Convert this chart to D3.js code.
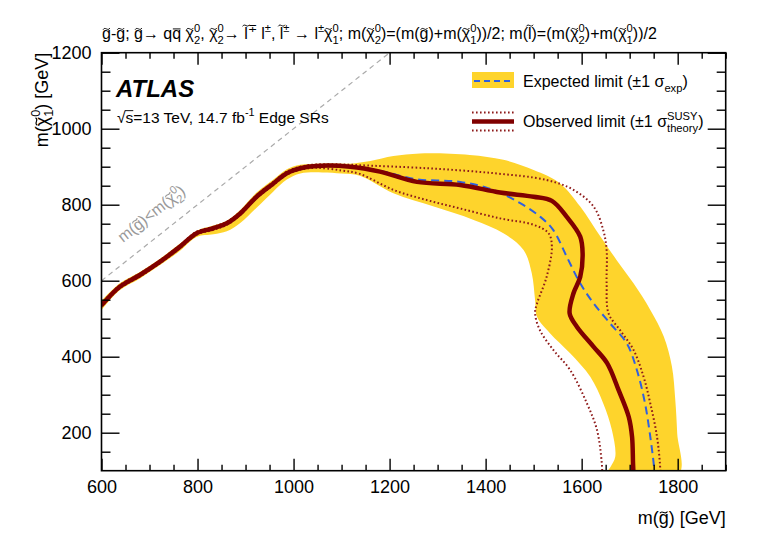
<!DOCTYPE html>
<html lang="en">
<head>
  <meta charset="UTF-8">
  <title>Edge SRs gluino limit</title>
  <script src="https://cdn.jsdelivr.net/npm/d3@7"></script>
  <style>
    body { margin: 0; background: #fff; }
    text { font-family: "Liberation Sans", Arial, sans-serif; }
  </style>
</head>
<body>
  <svg id="chart" width="764" height="542"></svg>
  <script>
    // [m(gluino), m(chi1)] in GeV
    const observed = [[600,535],[638,584],[680,615],[722,650],[763,689],[798,725],[833,738],[861,751],[889,777],[923,821],[958,856],[986,883],[1014,896],[1048,902],[1118,900],[1180,887],[1257,860],[1347,852],[1430,832],[1500,821],[1538,810],[1569,768],[1597,716],[1602,672],[1597,610],[1583,567],[1575,514],[1590,479],[1625,426],[1653,383],[1677,312],[1698,242],[1705,189],[1707,119],[1708,90]];
    const expected = [[600,535],[638,584],[680,615],[722,650],[763,689],[798,725],[833,738],[861,751],[889,777],[923,821],[958,856],[986,883],[1014,896],[1048,902],[1118,900],[1180,889],[1256,867],[1347,860],[1416,839],[1472,804],[1514,768],[1541,733],[1569,663],[1597,593],[1625,540],[1659,488],[1694,435],[1715,365],[1732,277],[1743,189],[1750,119],[1752,90]];
    const obsDown = [[600,531],[638,580],[680,611],[722,646],[763,685],[798,721],[833,734],[861,747],[889,773],[923,817],[958,852],[986,879],[1014,892],[1048,897],[1100,890],[1138,881],[1208,839],[1278,812],[1347,790],[1430,764],[1500,747],[1531,725],[1538,689],[1527,610],[1507,540],[1503,514],[1513,470],[1541,418],[1576,365],[1611,277],[1632,207],[1642,119],[1643,90]];
    const obsUp = [[600,539],[638,588],[680,619],[722,654],[763,693],[798,729],[833,742],[861,755],[889,781],[923,825],[958,860],[986,887],[1014,900],[1048,906],[1100,906],[1138,904],[1277,896],[1416,883],[1527,865],[1583,839],[1625,795],[1645,733],[1652,681],[1652,593],[1656,514],[1680,470],[1708,418],[1729,347],[1743,277],[1757,189],[1763,119],[1764,90]];
    const bandUpper = [[600,547],[638,593],[680,623],[722,658],[763,697],[798,731],[833,745],[861,758],[889,786],[923,832],[958,866],[986,893],[1014,905],[1060,908],[1118,908],[1160,915],[1208,928],[1263,935],[1367,931],[1437,918],[1500,891],[1555,856],[1597,795],[1639,716],[1673,654],[1708,593],[1743,523],[1771,453],[1788,374],[1795,286],[1799,198],[1802,90]];
    const bandLower = [[600,523],[638,575],[680,606],[722,641],[763,678],[798,715],[833,722],[861,730],[889,752],[923,792],[958,835],[986,866],[1014,882],[1060,885],[1100,882],[1138,876],[1208,830],[1292,795],[1375,760],[1437,725],[1479,681],[1496,620],[1503,549],[1507,505],[1534,462],[1576,409],[1618,347],[1645,277],[1663,207],[1670,137],[1660,110],[1652,90]];
    const diagonal = [[600,600],[1300,1300]];
    const xMajor = d3.range(600, 1801, 200);
    const yMajor = d3.range(200, 1201, 200);

    const svg = d3.select('#chart');
    const x = d3.scaleLinear().domain([600, 1900]).range([101.5, 725.7]);
    const y = d3.scaleLinear().domain([100, 1200]).range([470.7, 52.7]);
    const [x0, x1] = x.range(), [y0, y1] = y.range();

    // rich text: ^{..} sup, _{..} sub, ^{..}_{..} stacked.
    // combining tilde / macron / overline are drawn by hand over the base char
    function rich(parent, px, py, str, fs, color = '#000', anchor = 'start') {
      const t = parent.append('text').attr('x', px).attr('y', py)
        .attr('text-anchor', anchor).style('font-size', fs + 'px').style('fill', color);
      const re = /\^\{([^}]*)\}_\{([^}]*)\}|\^\{([^}]*)\}|_\{([^}]*)\}/g;
      const marks = [];
      let cur = 0, last = 0, m, extra = 0, n = 0;
      const add = (s, shift, size) => {
        let clean = '';
        for (const ch of s) {
          if ('\u0303\u0304\u0305'.includes(ch)) marks.push({ i: n + clean.length - 1, ch, base: clean[clean.length - 1] });
          else clean += ch;
        }
        n += clean.length;
        const ts = t.append('tspan').attr('dy', shift - cur).style('font-size', size + 'px').text(clean);
        if (extra) { ts.attr('dx', extra); extra = 0; }
        cur = shift;
        return ts;
      };
      while ((m = re.exec(str)) !== null) {
        if (m.index > last) add(str.slice(last, m.index), 0, fs);
        if (m[1] !== undefined) {
          const a = add(m[1], -0.42 * fs, 0.7 * fs);
          const wa = a.node().getComputedTextLength();
          const b = add(m[2], 0.3 * fs, 0.7 * fs).attr('dx', -wa);
          const wb = b.node().getComputedTextLength();
          if (wa > wb) extra = wa - wb;
        } else if (m[3] !== undefined) {
          add(m[3], -0.42 * fs, 0.7 * fs);
        } else {
          add(m[4], 0.3 * fs, 0.7 * fs);
        }
        last = re.lastIndex;
      }
      if (last < str.length) add(str.slice(last), 0, fs);

      marks.forEach(mk => {
        const e = t.node().getExtentOfChar(mk.i);
        const base = e.y + 0.905 * fs;
        const cx = e.x + e.width / 2;
        const tall = 'lbdhkft'.includes(mk.base);
        if (mk.ch === '\u0303') {
          const w = 0.42 * fs, h = 0.1 * fs, cy = base - (tall ? 0.87 : 0.66) * fs;
          parent.append('path')
            .attr('d', `M${cx - w / 2},${cy + h / 2} C${cx - w / 5},${cy - 1.8 * h} ${cx + w / 5},${cy + 1.8 * h} ${cx + w / 2},${cy - h / 2}`)
            .attr('fill', 'none').attr('stroke', color).attr('stroke-width', 0.06 * fs);
        } else {
          const cy = base - (mk.ch === '\u0305' ? 0.8 : 0.66) * fs;
          const x2 = mk.ch === '\u0305' ? e.x + e.width : cx + 0.24 * fs;
          const x1 = mk.ch === '\u0305' ? e.x - 0.05 * fs : cx - 0.24 * fs;
          parent.append('line').attr('x1', x1).attr('x2', x2).attr('y1', cy).attr('y2', cy)
            .attr('stroke', color).attr('stroke-width', 0.06 * fs);
        }
      });
      return t;
    }

    svg.append('clipPath').attr('id', 'plot-clip')
      .append('rect').attr('x', x0).attr('y', y1).attr('width', x1 - x0).attr('height', y0 - y1);

    const plot = svg.append('g').attr('clip-path', 'url(#plot-clip)');
    const line = d3.line().x(d => x(d[0])).y(d => y(d[1])).curve(d3.curveCatmullRom.alpha(0.5));

    // expected +-1 sigma band
    plot.append('path')
      .attr('d', line(bandUpper.concat(bandLower.slice().reverse())) + 'Z')
      .attr('fill', '#fed42c');

    plot.append('path')
      .attr('d', d3.line().x(d => x(d[0])).y(d => y(d[1]))(diagonal))
      .attr('fill', 'none').attr('stroke', '#aaa').attr('stroke-width', 1.2)
      .attr('stroke-dasharray', '5,4');

    plot.append('path').attr('d', line(expected))
      .attr('fill', 'none').attr('stroke', '#3060e0').attr('stroke-width', 2)
      .attr('stroke-dasharray', '8,5');

    [obsDown, obsUp].forEach(s => {
      plot.append('path').attr('d', line(s))
        .attr('fill', 'none').attr('stroke', '#8e1a1a').attr('stroke-width', 2)
        .attr('stroke-dasharray', '1.6,2.4');
    });

    plot.append('path').attr('d', line(observed))
      .attr('fill', 'none').attr('stroke', '#800000').attr('stroke-width', 4.5)
      .attr('stroke-linejoin', 'round');

    // axes, ticks pointing inward on all four sides
    const xMinor = d3.range(600, 1901, 50).filter(v => v % 200 !== 0);
    const yMinor = d3.range(100, 1201, 50).filter(v => v % 200 !== 0 && v > 100);
    const fmt = d3.format('d');
    const axes = [
      [d3.axisBottom(x).tickValues(xMajor).tickSizeInner(-12).tickPadding(10).tickFormat(fmt), `translate(0,${y0})`, true],
      [d3.axisBottom(x).tickValues(xMinor).tickSizeInner(-6).tickFormat(''), `translate(0,${y0})`],
      [d3.axisTop(x).tickValues(xMajor).tickSizeInner(-12).tickFormat(''), `translate(0,${y1})`],
      [d3.axisTop(x).tickValues(xMinor).tickSizeInner(-6).tickFormat(''), `translate(0,${y1})`],
      [d3.axisLeft(y).tickValues(yMajor).tickSizeInner(-18).tickPadding(10).tickFormat(fmt), `translate(${x0},0)`, true],
      [d3.axisLeft(y).tickValues(yMinor).tickSizeInner(-9).tickFormat(''), `translate(${x0},0)`],
      [d3.axisRight(y).tickValues(yMajor).tickSizeInner(-18).tickFormat(''), `translate(${x1},0)`],
      [d3.axisRight(y).tickValues(yMinor).tickSizeInner(-9).tickFormat(''), `translate(${x1},0)`]
    ];
    axes.forEach(([ax, tr, labels]) => {
      const g = svg.append('g').attr('transform', tr).call(ax.tickSizeOuter(0));
      g.select('.domain').remove();
      g.selectAll('.tick line').attr('stroke', '#000').attr('stroke-width', 1.4);
      if (labels) g.selectAll('.tick text').style('font-size', '18px')
        .style('font-family', '"Liberation Sans", Arial, sans-serif').attr('fill', '#000');
    });

    svg.append('rect').attr('x', x0).attr('y', y1).attr('width', x1 - x0).attr('height', y0 - y1)
      .attr('fill', 'none').attr('stroke', '#000').attr('stroke-width', 1.6);

    // axis titles
    rich(svg.append('g'), x1, 524, 'm(g\u0303) [GeV]', 18, '#000', 'end');
    rich(svg.append('g').attr('transform', `translate(48,${y1}) rotate(-90)`), 0, 0,
      'm(\u03c7\u0303^{0}_{1}) [GeV]', 18, '#000', 'end');

    // process title above the frame
    rich(svg.append('g'), 102, 39,
      'g\u0303-g\u0303; g\u0303\u2192 qq\u0304 \u03c7\u0303^{0}_{2}, \u03c7\u0303^{0}_{2}\u2192 l\u0303^{\u2213} l^{\u00b1}, l\u0303^{\u00b1} \u2192 l^{\u00b1}\u03c7\u0303^{0}_{1}; m(\u03c7\u0303^{0}_{2})=(m(g\u0303)+m(\u03c7\u0303^{0}_{1}))/2; m(l\u0303)=(m(\u03c7\u0303^{0}_{2})+m(\u03c7\u0303^{0}_{1}))/2', 16);

    // ATLAS label
    svg.append('text').attr('x', 116).attr('y', 97).text('ATLAS')
      .style('font-size', '24px').style('font-weight', 'bold').style('font-style', 'italic');
    rich(svg.append('g'), 117, 123, '\u221as\u0305=13 TeV, 14.7 fb^{-1} Edge SRs', 15.5);

    // kinematic boundary label
    const ang = Math.atan2(y(600) - y(800), x(800) - x(600)) * 180 / Math.PI;
    rich(svg.append('g').attr('transform', `translate(123,243) rotate(${-ang})`), 0, 0,
      'm(g\u0303)<m(\u03c7\u0303^{0}_{2})', 16, '#999');

    // legend
    const lg = svg.append('g');
    lg.append('rect').attr('x', 472).attr('y', 72).attr('width', 42).attr('height', 16).attr('fill', '#fed42c');
    lg.append('line').attr('x1', 474).attr('x2', 512).attr('y1', 81).attr('y2', 81)
      .attr('stroke', '#3060e0').attr('stroke-width', 2).attr('stroke-dasharray', '6,4');
    rich(lg, 523, 87, 'Expected limit (\u00b11 \u03c3_{exp})', 16);
    lg.append('line').attr('x1', 472).attr('x2', 514).attr('y1', 121.5).attr('y2', 121.5)
      .attr('stroke', '#800000').attr('stroke-width', 4.5);
    [112.5, 130.5].forEach(v => {
      lg.append('line').attr('x1', 472).attr('x2', 514).attr('y1', v).attr('y2', v)
        .attr('stroke', '#8e1a1a').attr('stroke-width', 2).attr('stroke-dasharray', '1.6,2.4');
    });
    rich(lg, 523, 127, 'Observed limit (\u00b11 \u03c3^{SUSY}_{theory})', 16);
  </script>
</body>
</html>
